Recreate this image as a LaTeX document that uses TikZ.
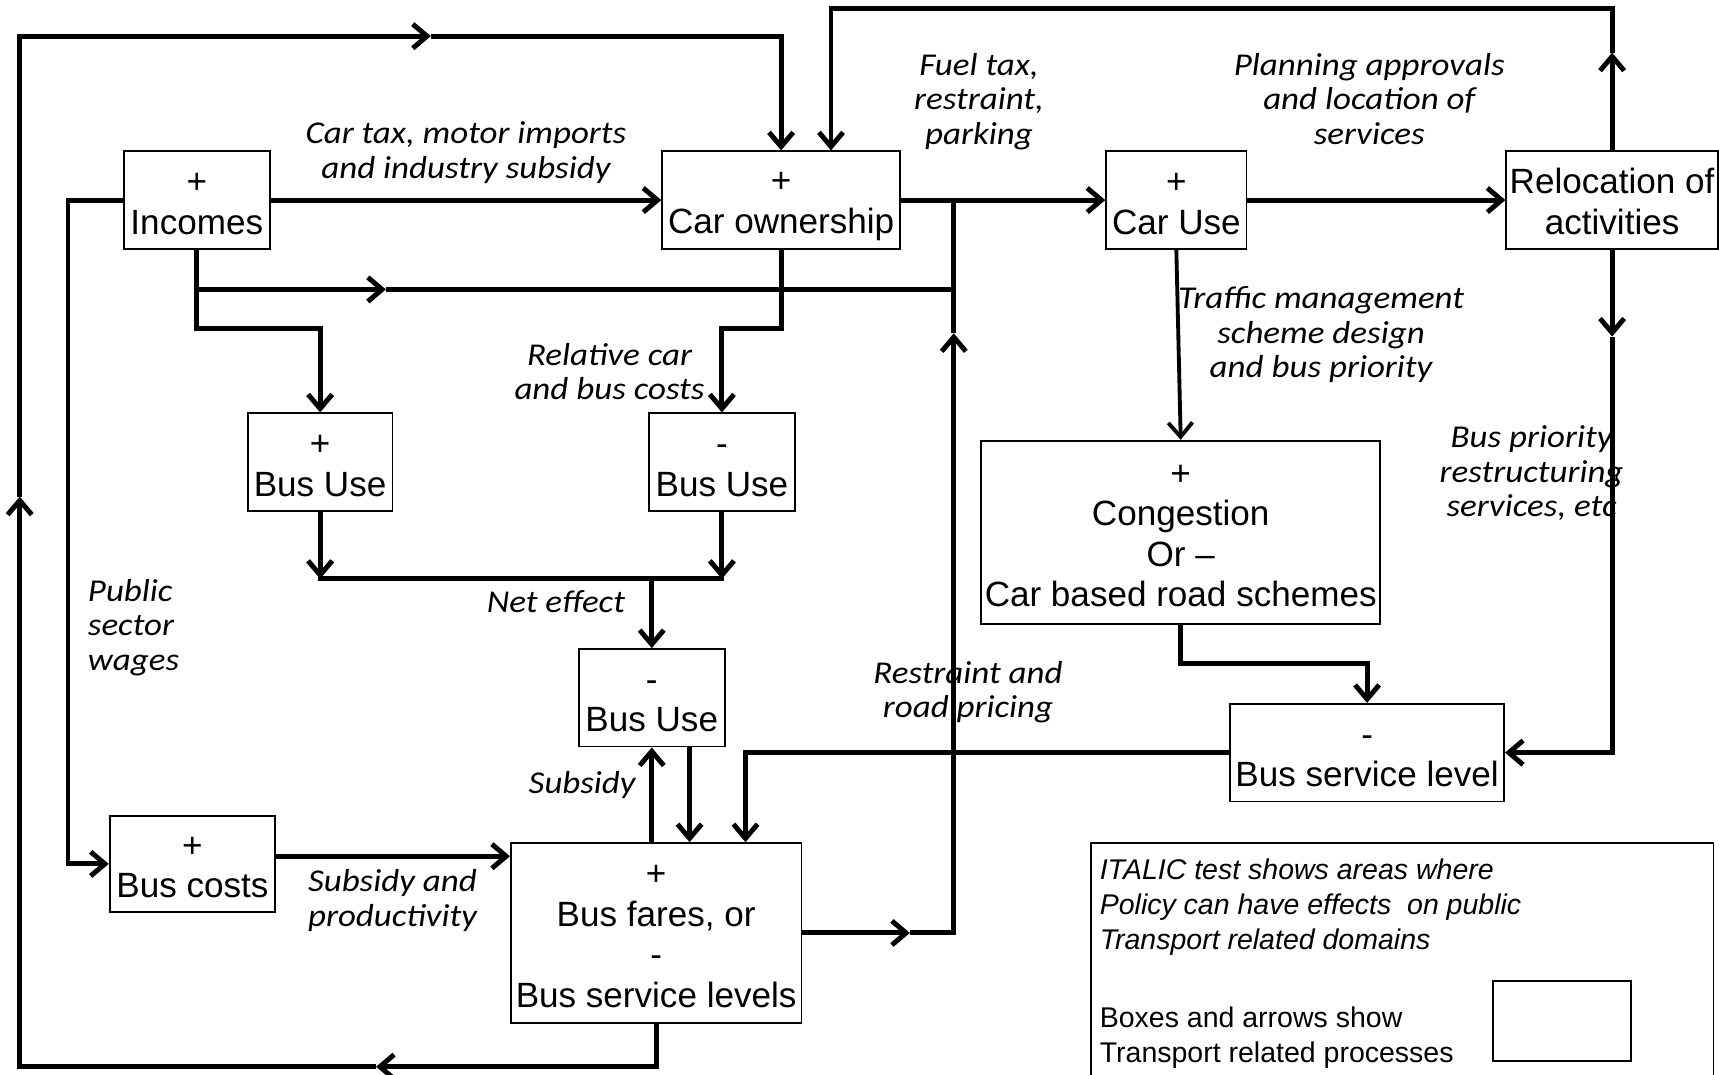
\documentclass[tikz,border=0pt]{standalone}
\usepackage{fontspec}
\setmainfont{Liberation Sans}
\newfontfamily\calfont{Carlito}[FakeStretch=1.1]
\usetikzlibrary{arrows.meta}
\newcommand\bs{\rule[-5pt]{0pt}{35pt}}
\newcommand\ls{\rule[-7pt]{0pt}{29pt}}
\newcommand\gs{\rule[-6pt]{0pt}{26pt}}
\begin{document}
\begin{tikzpicture}[x=1pt,y=-1pt,
  box/.style={draw, line width=1.6pt, inner sep=0pt, align=center,
    font=\fontsize{32}{37}\selectfont, execute at end node=\bs},
  lab/.style={inner sep=0pt, align=center,
    font=\calfont\itshape\fontsize{29}{31.5}\selectfont, execute at end node=\ls},
  leg/.style={inner sep=0pt, align=left, font=\fontsize{26}{32}\selectfont,
    execute at end node=\gs},
  conn/.style={line width=4.5pt, line join=miter},
  arr/.style={conn, -{Straight Barb[length=13pt,width=22pt]}},
]
\useasboundingbox (0,0) rectangle (1568,980);
\clip (0,0) rectangle (1568,980);

% boxes
\node[box, minimum width=133pt, minimum height=89pt] (inc) at (179.5,182.5) {\bs+\\Incomes};
\node[box, minimum width=217pt, minimum height=89pt] (own) at (712.5,182.5) {\bs+\\Car ownership};
\node[box, minimum width=128pt, minimum height=89pt] (caruse) at (1073,182.5) {\bs+\\Car Use};
\node[box, minimum width=193pt, minimum height=89pt] (reloc) at (1470.5,182.5) {\bs Relocation of\\activities};
\node[box, minimum width=132pt, minimum height=89pt] (buL) at (292,421.5) {\bs+\\Bus Use};
\node[box, minimum width=133pt, minimum height=89pt] (buR) at (658.5,421.5) {\bs-\\Bus Use};
\node[box, minimum width=133pt, minimum height=89pt] (buM) at (594.5,636.5) {\bs-\\Bus Use};
\node[box, minimum width=364pt, minimum height=167pt] (cong) at (1077,485.5) {\bs+\\Congestion\\Or –\\Car based road schemes};
\node[box, minimum width=250pt, minimum height=89pt] (bsl) at (1247,686.5) {\bs-\\Bus service level};
\node[box, minimum width=151pt, minimum height=88pt] (bcost) at (175.5,788) {\bs+\\Bus costs};
\node[box, minimum width=265pt, minimum height=164pt] (fares) at (598.5,851) {\bs+\\Bus fares, or\\-\\Bus service levels};

% legend
\node[draw, line width=1.6pt, minimum width=568pt, minimum height=230pt, inner sep=0pt] (legend) at (1279,884) {};
\node[draw, line width=1.6pt, minimum width=126pt, minimum height=73pt, inner sep=0pt] (legbox) at (1425,931.5) {};
\node[leg, anchor=west, font=\fontsize{26}{32}\selectfont\itshape] (legit) at (1003,827.3) {\gs ITALIC test shows areas where\\Policy can have effects\ \ on public\\Transport related domains};
\node[leg, anchor=west] (legbx) at (1003,946.3) {\gs Boxes and arrows show\\Transport related processes};

% labels
\node[lab] (lcartax) at (425,139.5) {\ls Car tax, motor imports\\and industry subsidy};
\node[lab] (lfuel) at (893,92.5) {\ls Fuel tax,\\restraint,\\parking};
\node[lab] (lplan) at (1249,92.5) {\ls Planning approvals\\and location of\\services};
\node[lab] (lrel) at (556,341.5) {\ls Relative car\\and bus costs};
\node[lab] (ltraf) at (1205,305.5) {\ls Traffic management\\scheme design\\and bus priority};
\node[lab] (lbuspr) at (1397,432.5) {\ls Bus priority\\restructuring\\services, etc};
\node[lab, align=left, anchor=west] (lpub) at (80,572.5) {\ls Public\\sector\\wages};
\node[lab] (lnet) at (507,551.5) {\ls Net effect};
\node[lab] (lrest) at (883,631.5) {\ls Restraint and\\road pricing};
\node[lab] (lsub) at (531,716.5) {\ls Subsidy};
\node[lab] (lsubp) at (358,821.5) {\ls Subsidy and\\productivity};

% routing coordinates
\coordinate (m1) at (343,973);
\coordinate (c1) at (18,973);
\coordinate (m2) at (18,453);
\coordinate (c2) at (18,33);
\coordinate (m3) at (393,33);
\coordinate (m4) at (1470.5,48);
\coordinate (y8) at (0,8);
\coordinate (own2) at ([xshift=45.5pt]own.north);
\coordinate (x62) at (62,0);
\coordinate (y300) at (0,300);
\coordinate (m5) at (352,264);
\coordinate (x870) at (870,0);
\coordinate (m6) at (830,851);
\coordinate (m7) at (870,304);
\coordinate (y528) at (0,528);
\coordinate (bm2) at ([xshift=34.5pt]buM.south);
\coordinate (bc1) at ([yshift=7pt]bcost.east);
\coordinate (y605) at (0,605);
\coordinate (m8) at (1470.5,307);

% big outer loop
\draw[arr] (fares.south) |- (m1);
\draw[arr] (m1) -- (c1) -- (m2);
\draw[arr] (m2) -- (c2) -- (m3);
\draw[arr] (m3) -| (own.north);

% upper loop from relocation
\draw[arr] (reloc.north) -- (m4);
\draw[arr] (m4) -- (m4 |- y8) -- (own2 |- y8) -- (own2);

% incomes
\draw[arr] (inc.east) -- (own.west);
\draw[arr] (inc.west) -- (x62 |- inc.west) -- (x62 |- bcost.west) -- (bcost.west);
\draw[arr] (inc.south) -- (inc.south |- y300) -| (buL.north);
\draw[arr] (inc.south |- m5) -- (m5);
\draw[conn] (m5) -- (x870 |- m5);

% fares to car use
\draw[arr] (fares.east) -- (m6);
\draw[arr] (m6) -| (m7);
\draw[conn] (m7) -- (x870 |- own.east);
\draw[arr] (own.east) -- (caruse.west);

% car ownership to bus use
\draw[arr] (own.south) -- (own.south |- y300) -| (buR.north);

% net effect
\draw[arr] (buL.south) -- (buL.south |- y528);
\draw[arr] (buR.south) -- (buR.south |- y528);
\draw[conn, line cap=rect] (buL.south |- y528) -- (buR.south |- y528);
\draw[arr] (buM.north |- y528) -- (buM.north);

% fares and bus use
\draw[arr] (buM.south |- fares.north) -- (buM.south);
\draw[arr] (bm2) -- (bm2 |- fares.north);

% bus costs to fares
\draw[arr] (bc1) -- (bc1 -| fares.west);

% bus service level to fares
\draw[arr] (bsl.west) -| ([xshift=81.5pt]fares.north);

% car use
\draw[arr, line width=3.5pt] (caruse.south) -- (cong.north);
\draw[arr] (caruse.east) -- (reloc.west);

% congestion to bus service level
\draw[arr] (cong.south) -- (cong.south |- y605) -| (bsl.north);

% relocation to bus service level
\draw[arr] (reloc.south) -- (m8);
\draw[arr] (m8) |- (bsl.east);
\end{tikzpicture}
\end{document}
